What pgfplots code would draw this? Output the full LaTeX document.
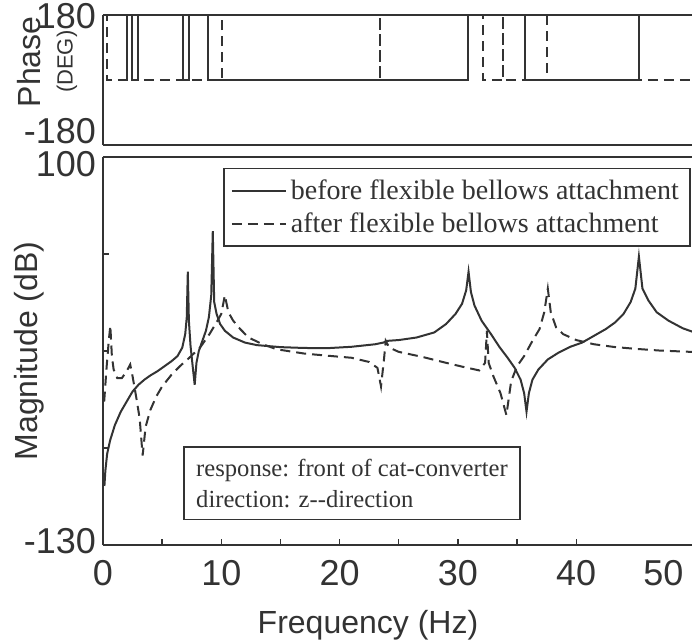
\documentclass[border=0pt]{standalone}
\usepackage{pgfplots}
\pgfplotsset{compat=1.18}
\usepackage{fontspec}
\setmainfont{Liberation Serif}
\newfontfamily\plotfont{Liberation Sans}
\definecolor{ink}{gray}{0.2}

\begin{document}
\begin{tikzpicture}
\pgfplotsset{
  every axis/.append style={
    x=5.915pt, xmin=0, xmax=50,
    axis x line*=box, axis y line*=left,
    axis line style={ink, line width=0.9pt},
    tick style={ink, line width=0.7pt},
    tick align=inside,
    major tick length=3pt, minor tick length=3pt,
    tick label style={font=\plotfont\fontsize{18}{20}\selectfont, text=ink},
    label style={font=\plotfont\fontsize{16}{19}\selectfont, text=ink},
  },
  before/.style={ink, line width=1pt},
  after/.style={ink, line width=1pt, dash pattern=on 5pt off 3pt},
}
% phase
\begin{axis}[name=phase, y=0.18056pt, ymin=-180, ymax=180,
  xtick=\empty, ytick={-180,180},
  yticklabels={{\smash{\raisebox{0.75pt}{-180}}},{\smash{\raisebox{-6.5pt}{180}}}},
  major tick length=0pt,
  ylabel={Phase\\[-3pt]{\fontsize{11}{12}\selectfont(DEG)}},
  ylabel style={align=center, at={(axis description cs:-0.094,0.64)}, anchor=center}]
\addplot[before] coordinates {(0,180) (6.76,180) (6.76,0) (7.27,0) (7.27,180) (8.88,180) (8.88,0)
  (30.85,0) (30.85,180) (35.7,180) (35.7,0) (45.3,0) (45.3,180) (50,180)};
\addplot[after] coordinates {(0,180) (0.3,180) (0.3,0) (2.03,0) (2.03,180) (2.03,0) (2.45,0)
  (2.45,180) (2.45,0) (2.96,0) (2.96,180) (2.96,0) (10.06,0) (10.06,180) (23.4,180) (23.4,0)
  (23.4,180) (32.1,180) (32.1,0) (33.8,0) (33.8,180) (33.8,0) (37.5,0) (37.5,180) (45.3,180)
  (45.3,0) (50,0)};
\end{axis}
% magnitude
\begin{axis}[name=mag, at={(phase.south west)}, anchor=north west, yshift=-6pt,
  y=0.8435pt, ymin=-130, ymax=100,
  xtick={0,10,20,30,40}, xticklabels={0,10,20,30,40}, minor x tick num=1, xtick pos=bottom,
  extra x ticks={50}, extra x tick labels={50},
  extra x tick style={xticklabel style={anchor=north east, xshift=-2pt}},
  xticklabel style={yshift=-4pt},
  ytick={-130,-72.5,-15,42.5,100},
  yticklabels={{\smash{\raisebox{-4pt}{-130}}},,,,{\smash{\raisebox{-9.5pt}{100}}}},
  xlabel={Frequency (Hz)}, ylabel={Magnitude (dB)},
  xlabel style={at={(axis description cs:0.448,0)}, anchor=north, yshift=-29pt},
  ylabel style={at={(axis description cs:-0.124,0.5)}, anchor=center},
  legend cell align=left,
  legend image code/.code={\draw[#1] (0pt,0pt) -- (27pt,0pt);},
  legend style={at={(rel axis cs:0.203,0.972)}, anchor=north west, draw=ink, line width=0.8pt,
    font=\fontsize{14}{15}\selectfont, inner sep=3.5pt, row sep=1pt,
    nodes={inner sep=2pt, text=ink}}]
\addplot[before] coordinates {(0.12,-95) (0.2,-86) (0.35,-76) (0.6,-68) (1.0,-59) (1.5,-51)
  (2.0,-45) (2.5,-39) (3.0,-35) (3.5,-32) (4.0,-29.5) (4.6,-27) (5.2,-24) (5.8,-21) (6.3,-18)
  (6.7,-13) (6.95,-5) (7.08,5) (7.17,32) (7.26,3) (7.4,-12) (7.55,-22) (7.75,-35) (7.9,-22)
  (8.1,-15) (8.4,-9) (8.7,-3) (8.95,5) (9.15,18) (9.28,56) (9.4,14) (9.6,7) (9.9,1) (10.3,-3)
  (11,-7) (12,-10) (13,-11.5) (15,-12.7) (17,-13.2) (19,-13.3) (21,-12.5) (23,-11) (23.7,-10)
  (24,-9) (25,-8.5) (26.5,-7) (28,-4) (29,1) (29.8,7) (30.35,13) (30.7,21) (30.9,32) (31.1,20)
  (31.4,12) (32,3) (32.8,-5) (33.5,-12.5) (34.2,-19) (34.8,-25) (35.3,-32) (35.6,-40) (35.8,-51)
  (36.0,-40) (36.3,-32) (36.8,-26) (37.6,-20) (38.5,-16) (39.5,-12.5) (40.5,-10) (41.5,-6)
  (42.5,-2) (43.3,2) (44.0,7) (44.6,14) (45.0,22) (45.3,41) (45.6,22) (46.1,15) (46.8,8)
  (47.8,3) (49,-1.5) (50,-4)};
\addlegendentry{before flexible bellows attachment}
\addplot[after] coordinates {(0.1,-45) (0.3,-25) (0.5,-8) (0.62,0) (0.75,-18) (0.9,-26)
  (1.2,-31) (1.6,-31) (2.0,-27) (2.3,-23) (2.5,-30) (2.8,-42) (3.1,-55) (3.35,-77) (3.6,-60)
  (4.0,-50) (4.5,-42) (5.0,-36) (5.8,-29) (6.5,-24) (7.3,-19) (8.2,-13) (9.0,-5) (9.6,2)
  (10.0,7) (10.3,18) (10.6,8) (11.0,3) (11.6,-2) (12.3,-7) (13.5,-11) (14.7,-14) (17,-16.5)
  (19,-17.8) (21,-19) (22.5,-21.5) (23.2,-25) (23.5,-36) (23.75,-20) (23.9,-9) (24.2,-13)
  (25,-15.5) (27,-18.5) (29,-22) (30.5,-24.5) (31.8,-26.5) (32.3,-22) (32.45,-3) (32.6,-22)
  (33.0,-30) (33.6,-40) (34.1,-53) (34.5,-33) (35.0,-24) (35.6,-18) (36.3,-9) (36.9,-2)
  (37.3,8) (37.6,22) (37.85,8) (38.3,-1) (38.9,-5) (40,-8.5) (41.5,-11) (43.2,-12.6)
  (45,-13.7) (47,-14.7) (50,-15.6)};
\addlegendentry{after flexible bellows attachment}
\node[draw=ink, line width=0.8pt, align=left, anchor=south west, text=ink,
  font=\fontsize{12.3}{15.5}\selectfont, inner sep=6pt, fill=white]
  at (rel axis cs:0.136,0.064) {response: front of cat-converter\\direction: z-{}-direction};
\end{axis}
\pgfresetboundingbox
\path (phase.north west) ++(-51.5pt,7.5pt) coordinate (tl);
\path (mag.south west) ++(-51.5pt,-48.5pt) coordinate (bl);
\path[use as bounding box] (tl) rectangle ([xshift=346pt]bl);
\end{tikzpicture}
\end{document}
